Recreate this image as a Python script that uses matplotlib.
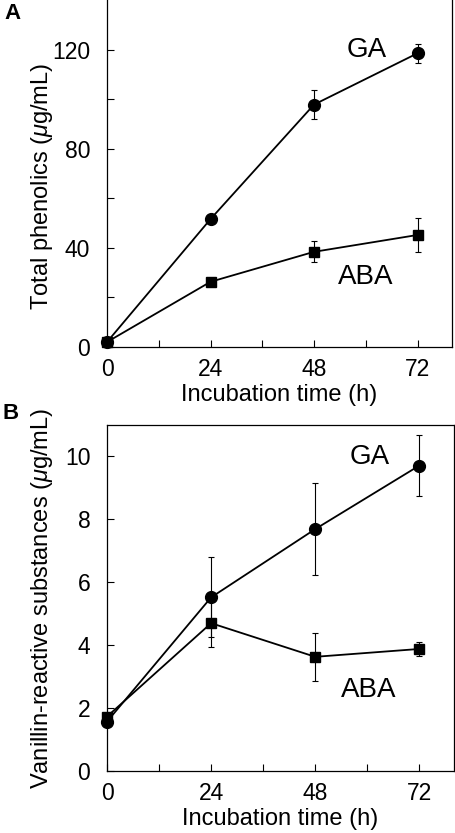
import matplotlib
matplotlib.use("Agg")
import matplotlib.pyplot as plt
from matplotlib.ticker import FixedLocator

plt.rcParams.update({
    "font.family": ["Liberation Sans", "DejaVu Sans"],
    "mathtext.fontset": "custom",
    "mathtext.it": "Liberation Sans:italic",
    "mathtext.rm": "Liberation Sans",
})

# ---- data -----------------------------------------------------------------
hours = [0, 24, 48, 72]

# panel A: total phenolics (ug/mL)
ga_phen = [2.0, 51.6, 97.8, 118.5]
ga_phen_err = [0.5, 1.0, 5.9, 3.8]
aba_phen = [2.0, 26.3, 38.4, 45.2]
aba_phen_err = [0.5, 1.0, 4.2, 6.8]

# panel B: vanillin-reactive substances (ug/mL)
ga_van = [1.57, 5.52, 7.69, 9.71]
ga_van_err = [0.1, 1.27, 1.47, 0.96]
aba_van = [1.73, 4.70, 3.63, 3.88]
aba_van_err = [0.1, 0.75, 0.77, 0.22]

x_major = [0, 24, 48, 72]
x_minor = [12, 36, 60]

W, H = 455, 833
fig = plt.figure(figsize=(W / 100, H / 100), dpi=100)
fig.patch.set_facecolor("white")


def px_axes(left, right, top, bottom):
    return fig.add_axes([left / W, 1 - bottom / H, (right - left) / W, (bottom - top) / H])


def draw_panel(ax, ga, ga_err, aba, aba_err, ylim, y_major, y_minor):
    kw = dict(color="black", lw=1.3, elinewidth=0.8, capsize=2.5, capthick=0.8,
              clip_on=False, zorder=3)
    ax.errorbar(hours, ga, yerr=ga_err, marker="o", ms=8.5, mfc="black", mec="black", **kw)
    ax.errorbar(hours, aba, yerr=aba_err, marker="s", ms=7.5, mfc="black", mec="black", **kw)
    ax.set_xlim(0, 80)
    ax.set_ylim(*ylim)
    ax.xaxis.set_major_locator(FixedLocator(x_major))
    ax.xaxis.set_minor_locator(FixedLocator(x_minor))
    ax.yaxis.set_major_locator(FixedLocator(y_major))
    if y_minor:
        ax.yaxis.set_minor_locator(FixedLocator(y_minor))
    ax.tick_params(which="both", direction="in", length=5, width=0.8,
                   top=False, right=False, labelsize=16.5)
    ax.tick_params(axis="y", pad=12)
    ax.tick_params(axis="x", pad=8)
    for sp in ax.spines.values():
        sp.set_linewidth(0.9)
    ax.set_xlabel("Incubation time (h)", fontsize=17, labelpad=2)


# ---- panel A ----------------------------------------------------------------
axA = px_axes(107, 452, 0, 347)
draw_panel(axA, ga_phen, ga_phen_err, aba_phen, aba_phen_err,
           (0, 140), [0, 40, 80, 120], [20, 60, 100])
axA.spines["top"].set_visible(False)
axA.text(60.3, 117, "GA", fontsize=20, ha="center", va="baseline")
axA.text(59.9, 25.4, "ABA", fontsize=20, ha="center", va="baseline")
fig.text(42 / W, 1 - 186 / H, r"Total phenolics ($\mathit{\mu}$g/mL)", rotation=90,
         ha="center", va="center", fontsize=17)
fig.text(4 / W, 1 - 3 / H, "A", fontsize=16, fontweight="bold", ha="left", va="top")

# ---- panel B ----------------------------------------------------------------
axB = px_axes(107, 454, 425, 771)
draw_panel(axB, ga_van, ga_van_err, aba_van, aba_van_err,
           (0, 11), [0, 2, 4, 6, 8, 10], None)
axB.text(60.6, 9.76, "GA", fontsize=20, ha="center", va="baseline")
axB.text(60.3, 2.36, "ABA", fontsize=20, ha="center", va="baseline")
fig.text(42 / W, 1 - 598 / H, r"Vanillin-reactive substances ($\mathit{\mu}$g/mL)",
         rotation=90, ha="center", va="center", fontsize=17)
fig.text(3 / W, 1 - 403 / H, "B", fontsize=16, fontweight="bold", ha="left", va="top")

fig.savefig("out.png", dpi=100, facecolor="white")
